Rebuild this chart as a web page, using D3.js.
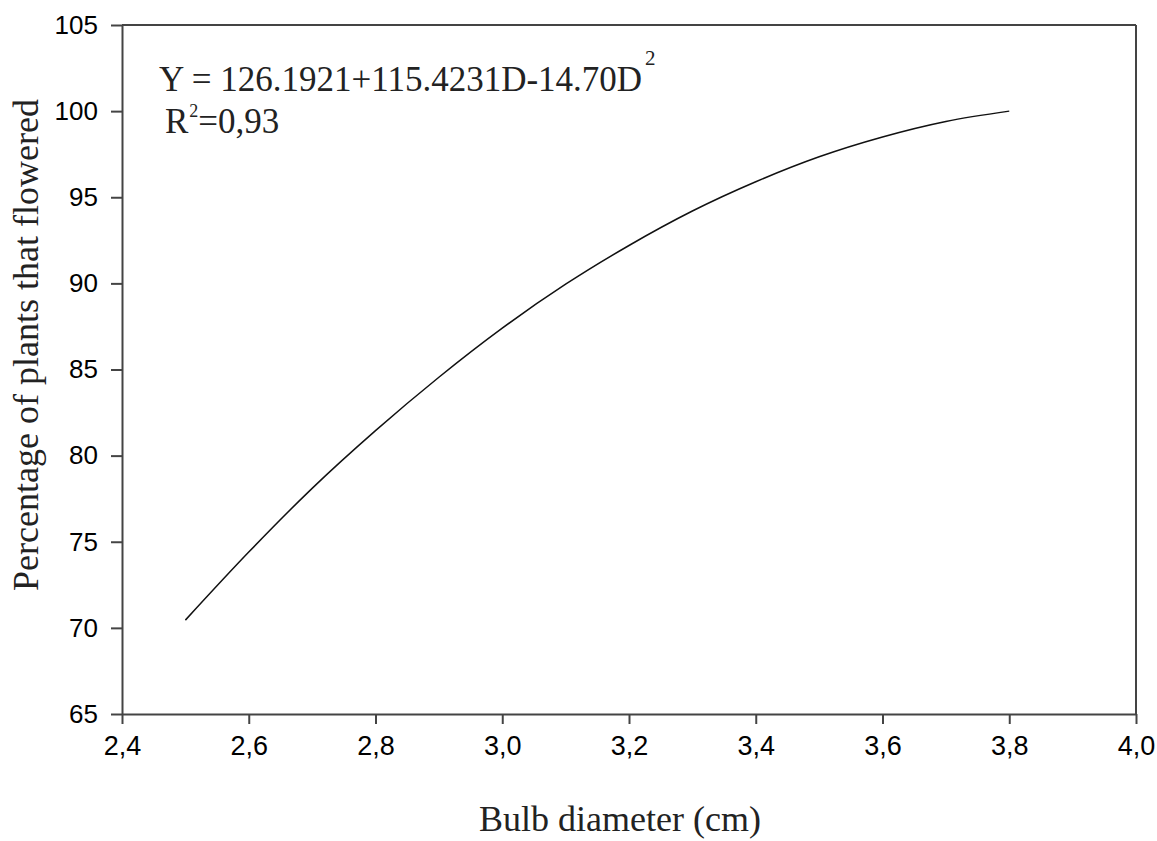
<!DOCTYPE html>
<html>
<head>
    <title>Bulb diameter vs flowering</title>
    <script src="https://d3js.org/d3.v7.min.js"></script>
    <style>
        body { margin: 0; background: #fff; }
    </style>
</head>
<body>
    <svg id="chart"></svg>

    <script>
        // values
        const diameter = [2.5, 2.6, 2.7, 2.8, 2.9, 3.0, 3.1, 3.2, 3.3, 3.4, 3.5, 3.6, 3.7, 3.8];
        const flowered = [70.45, 74.4, 78.1, 81.45, 84.55, 87.4, 89.95, 92.2, 94.2, 95.9, 97.35, 98.5, 99.4, 100.0];

        const xTicks = [2.4, 2.6, 2.8, 3.0, 3.2, 3.4, 3.6, 3.8, 4.0];
        const yTicks = [65, 70, 75, 80, 85, 90, 95, 100, 105];

        const width = 1157;
        const height = 841;
        const margin = { top: 25, right: 21, bottom: 127, left: 122 };
        const w = width - margin.left - margin.right;
        const h = height - margin.top - margin.bottom;
        const axisColor = "#444";

        const svg = d3.select("#chart")
            .attr("width", width)
            .attr("height", height);

        const g = svg.append("g")
            .attr("transform", `translate(${margin.left},${margin.top})`);

        const x = d3.scaleLinear().domain([2.4, 4.0]).range([0, w]);
        const y = d3.scaleLinear().domain([65, 105]).range([h, 0]);

        const xAxis = g.append("g")
            .attr("transform", `translate(0,${h})`)
            .call(d3.axisBottom(x)
                .tickValues(xTicks)
                .tickSize(10)
                .tickSizeOuter(0)
                .tickPadding(12)
                .tickFormat(d => d3.format(".1f")(d).replace(".", ",")));

        const yAxis = g.append("g")
            .call(d3.axisLeft(y)
                .tickValues(yTicks)
                .tickSize(11)
                .tickSizeOuter(0)
                .tickPadding(13)
                .tickFormat(d3.format("d")));

        [xAxis, yAxis].forEach(a => {
            a.selectAll(".domain, .tick line")
                .attr("stroke", axisColor)
                .attr("stroke-width", 2);
            a.selectAll(".tick text")
                .attr("fill", "#000")
                .style("font-family", "'Liberation Sans', Arial, sans-serif");
        });
        xAxis.selectAll(".tick text").style("font-size", "27px");
        yAxis.selectAll(".tick text").style("font-size", "26px");

        // frame: top and right edges
        g.append("line")
            .attr("x1", 0).attr("x2", w)
            .attr("y1", y(105)).attr("y2", y(105))
            .attr("stroke", axisColor).attr("stroke-width", 2);
        g.append("line")
            .attr("x1", w).attr("x2", w)
            .attr("y1", 0).attr("y2", h)
            .attr("stroke", axisColor).attr("stroke-width", 2);

        const pts = diameter.map((d, i) => [d, flowered[i]]);
        g.append("path")
            .datum(pts)
            .attr("fill", "none")
            .attr("stroke", "#111")
            .attr("stroke-width", 1.5)
            .attr("d", d3.line()
                .x(d => x(d[0]))
                .y(d => y(d[1]))
                .curve(d3.curveMonotoneX));

        // annotation
        const serif = "'Liberation Serif', 'Times New Roman', serif";
        svg.append("text")
            .attr("x", 159).attr("y", 91)
            .style("font-family", serif).style("font-size", "35px")
            .attr("fill", "#222")
            .text("Y = 126.1921+115.4231D-14.70D");
        svg.append("text")
            .attr("x", 645).attr("y", 65)
            .style("font-family", serif).style("font-size", "21px")
            .attr("fill", "#222")
            .text("2");

        const r2 = svg.append("text")
            .attr("x", 165).attr("y", 133)
            .style("font-family", serif).style("font-size", "35px")
            .attr("fill", "#222");
        r2.append("tspan").text("R");
        r2.append("tspan").attr("dx", 1).attr("dy", -16)
            .style("font-size", "18px").text("2");
        r2.append("tspan").attr("dy", 16).text("=0,93");

        // axis titles
        svg.append("text")
            .attr("x", 620).attr("y", 831)
            .attr("text-anchor", "middle")
            .style("font-family", serif).style("font-size", "36px")
            .attr("fill", "#222")
            .text("Bulb diameter (cm)");
        svg.append("text")
            .attr("transform", "translate(38,345) rotate(-90)")
            .attr("text-anchor", "middle")
            .style("font-family", serif).style("font-size", "36px")
            .attr("fill", "#222")
            .text("Percentage of plants that flowered");
    </script>
</body>
</html>
